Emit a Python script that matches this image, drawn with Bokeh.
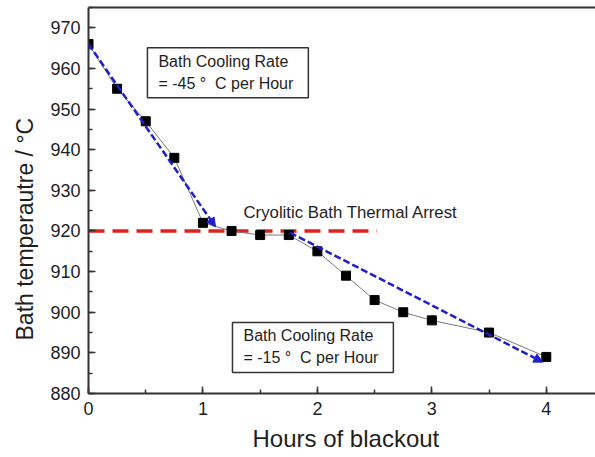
from bokeh.plotting import figure
from bokeh.models import (Range1d, LinearAxis, FixedTicker, Label, Arrow,
                          NormalHead, SingleIntervalTicker, Title)
from bokeh.embed import file_html
from bokeh.resources import INLINE

# ---- data ----
hours = [0, 0.25, 0.5, 0.75, 1.0, 1.25, 1.5, 1.75, 2.0, 2.25, 2.5, 2.75, 3.0, 3.5, 4.0]
temps = [966, 955, 947, 938, 922, 920, 919, 919, 915, 909, 903, 900, 898, 895, 889]
arrest_x = [0, 2.52]
arrest_temp = [920, 920]
fit1_x = [0, 1.11]
fit1_y = [966, 921]
fit2_x = [1.76, 3.97]
fit2_y = [919.6, 887.7]
x_title = "Hours of blackout"
y_title = "Bath temperautre / \u00b0C"
rate1_text = "Bath Cooling Rate\n= -45 \u00b0\u00a0 C per Hour"
rate2_text = "Bath Cooling Rate\n= -15 \u00b0\u00a0 C per Hour"
arrest_text = "Cryolitic Bath Thermal Arrest"

FONT = "Liberation Sans"
AX = "#333333"
TXT = "#1e1e1e"
BLUE = "#1f1fc8"
RED = "#e0221e"

p = figure(width=595, height=457, output_backend="svg", toolbar_location=None,
           x_range=Range1d(0, 4.43), y_range=Range1d(880, 975),
           min_border_left=88, min_border_right=0, min_border_top=7,
           min_border_bottom=64)
p.outline_line_color = None
p.xgrid.visible = False
p.ygrid.visible = False
p.background_fill_color = "white"
p.border_fill_color = "white"

p.xaxis.ticker = SingleIntervalTicker(interval=1, num_minor_ticks=2)
p.yaxis.ticker = SingleIntervalTicker(interval=10, num_minor_ticks=2)
for ax in (p.xaxis[0], p.yaxis[0]):
    ax.axis_line_color = AX
    ax.axis_line_width = 2
    ax.major_tick_line_color = AX
    ax.minor_tick_line_color = AX
    ax.major_tick_line_width = 1.5
    ax.minor_tick_line_width = 1.5
    ax.major_tick_in = 7
    ax.major_tick_out = 0
    ax.minor_tick_in = 4
    ax.minor_tick_out = 0
    ax.major_label_text_font = FONT
    ax.major_label_text_font_size = "18px"
    ax.major_label_text_color = TXT
    ax.major_label_standoff = 8

top = LinearAxis(ticker=FixedTicker(ticks=[]), major_label_text_font_size="0px",
                 axis_line_color=AX, axis_line_width=2,
                 major_tick_in=0, major_tick_out=0, minor_tick_in=0, minor_tick_out=0)
p.add_layout(top, "above")

# axis titles (as side titles so they can be offset like the reference)
p.add_layout(Title(text=x_title, align="left", offset=164, standoff=10,
                   text_font=FONT, text_font_size="24px", text_font_style="normal",
                   text_color=TXT), "below")
p.add_layout(Title(text=y_title, align="left", offset=53, standoff=19,
                   text_font=FONT, text_font_size="23px", text_font_style="normal",
                   text_color=TXT), "left")

# red arrest line
p.line(arrest_x, arrest_temp, line_color=RED, line_width=3.5, line_dash="16 8")
# data
p.line(hours, temps, line_color="#7a7a7a", line_width=1)
p.scatter(hours, temps, marker="square", size=9, fill_color="black", line_color="black")

# fitted arrows
for xs, ys in ((fit1_x, fit1_y), (fit2_x, fit2_y)):
    p.add_layout(Arrow(end=NormalHead(size=9, fill_color=BLUE, line_color=BLUE),
                       x_start=xs[0], y_start=ys[0], x_end=xs[1], y_end=ys[1],
                       line_color=BLUE, line_width=2.5, line_dash="7 3"))

p.add_layout(Label(x=1.354, y=924.5, text=arrest_text, text_font=FONT,
                   text_font_size="16.8px", text_color=TXT,
                   text_baseline="alphabetic"))

for lx, ly, txt in ((0.515, 965.1, rate1_text), (1.258, 897.5, rate2_text)):
    p.add_layout(Label(x=lx, y=ly, text=txt, anchor="top_left",
                       text_font=FONT, text_font_size="16px", text_color=TXT,
                       text_line_height=1.3,
                       border_line_color=AX, border_line_width=1.5,
                       background_fill_color="white",
                       padding=dict(left=11, right=15, top=5, bottom=6)))

open("out.html", "w").write(file_html(p, INLINE))
